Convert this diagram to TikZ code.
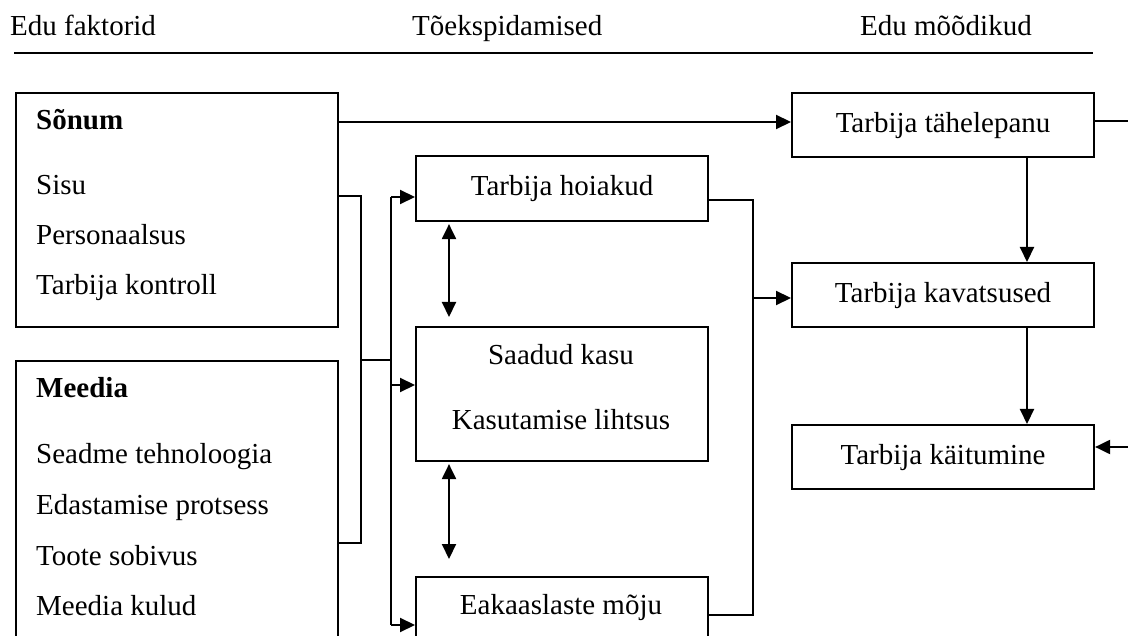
\documentclass[tikz,border=0pt]{standalone}
\usepackage{fontspec}
\setmainfont{Liberation Serif}
\usetikzlibrary{arrows.meta}
\begin{document}
\begin{tikzpicture}[x=1pt,y=-1pt,
  box/.style={draw,line width=2.1pt,inner sep=0pt,anchor=north west,font=\fontsize{29}{34}\selectfont},
  txt/.style={inner sep=0pt,anchor=base west,font=\fontsize{29}{34}\selectfont},
  ln/.style={line width=2.1pt},
  arr/.style={line width=2.1pt,-{Triangle[length=15pt,width=14pt]}},
  dbl/.style={line width=2.1pt,{Triangle[length=15pt,width=14pt]}-{Triangle[length=15pt,width=14pt]}}
]
\useasboundingbox (0,0) rectangle (1128,636);
\clip (0,0) rectangle (1128,636);
\fill[white] (0,0) rectangle (1128,636);

% header
\node[txt] (h1) at (10,36) {Edu faktorid};
\node[txt] (h2) at (412,36) {Tõekspidamised};
\node[txt] (h3) at (860,36) {Edu mõõdikud};
\coordinate (hl) at (14,53);
\coordinate (hr) at (1093,53);
\draw[line width=2.8pt] (hl) -- (hr);

% left boxes
\node[box,minimum width=322pt,minimum height=234pt] (sonum) at (15,92) {};
\node[box,minimum width=322pt,minimum height=320pt] (meedia) at (15,360) {};
\node[txt] (s0) at (36,130) {\bfseries Sõnum};
\node[txt] (s1) at (36,195) {Sisu};
\node[txt] (s2) at (36,245) {Personaalsus};
\node[txt] (s3) at (36,295) {Tarbija kontroll};
\node[txt] (m0) at (36,398) {\bfseries Meedia};
\node[txt] (m1) at (36,463) {Seadme tehnoloogia};
\node[txt] (m2) at (36,514) {Edastamise protsess};
\node[txt] (m3) at (36,565) {Toote sobivus};
\node[txt] (m4) at (36,615) {Meedia kulud};

% middle boxes
\node[box,minimum width=292pt,minimum height=65pt] (hoiak) at (415,155) {Tarbija hoiakud};
\node[box,minimum width=292pt,minimum height=134pt] (kasu) at (415,326) {};
\node[txt,anchor=base] (k1) at (561,365) {Saadud kasu};
\node[txt,anchor=base] (k2) at (561,430) {Kasutamise lihtsus};
\node[box,minimum width=292pt,minimum height=120pt] (eak) at (415,576) {};
\node[txt,anchor=base] (e1) at (561,614) {Eakaaslaste mõju};

% right boxes
\node[box,minimum width=302pt,minimum height=64pt] (tah) at (791,92) {Tarbija tähelepanu};
\node[box,minimum width=302pt,minimum height=64pt] (kav) at (791,262) {Tarbija kavatsused};
\node[box,minimum width=302pt,minimum height=64pt] (kai) at (791,424) {Tarbija käitumine};

% helper coordinates
\coordinate (ya) at (0,122);
\coordinate (ys) at (0,196);
\coordinate (ym) at (0,543);
\coordinate (j1) at (361,360);
\coordinate (bus) at (391,360);
\coordinate (b1) at (391,197);
\coordinate (b2) at (391,385);
\coordinate (b3) at (391,625);
\coordinate (xd) at (449,0);
\coordinate (r0) at (753,200);
\coordinate (r1) at (753,298);
\coordinate (r2) at (753,615);
\coordinate (xv) at (1027,0);
\coordinate (q1) at (1140,121);
\coordinate (q2) at (1140,447);

% Sõnum -> tähelepanu
\draw[arr] (sonum.east |- ya) -- (tah.west |- ya);

% left bracket
\draw[ln] (sonum.east |- ys) -| (j1) |- (meedia.east |- ym);
\draw[ln] (j1) -- (bus);
\draw[ln] (b1) -- (b3);
\draw[arr] (b1) -- (hoiak.west |- b1);
\draw[arr] (b2) -- (kasu.west |- b2);
\draw[arr] (b3) -- (eak.west |- b3);

% double arrows
\draw[dbl,shorten <=2pt,shorten >=9pt] (hoiak.south -| xd) -- (kasu.north -| xd);
\draw[dbl,shorten <=2pt,shorten >=17pt] (kasu.south -| xd) -- (eak.north -| xd);

% right bracket of middle column
\draw[ln] (hoiak.east |- r0) -- (r0) -- (r2) -- (eak.east |- r2);
\draw[arr] (r1) -- (kav.west |- r1);

% right column
\draw[arr] (tah.south -| xv) -- (kav.north -| xv);
\draw[arr] (kav.south -| xv) -- (kai.north -| xv);
\draw[line width=1.4pt] (tah.east |- q1) -- (q1);
\draw[arr] (q2) -- (kai.east |- q2);
\end{tikzpicture}
\end{document}
